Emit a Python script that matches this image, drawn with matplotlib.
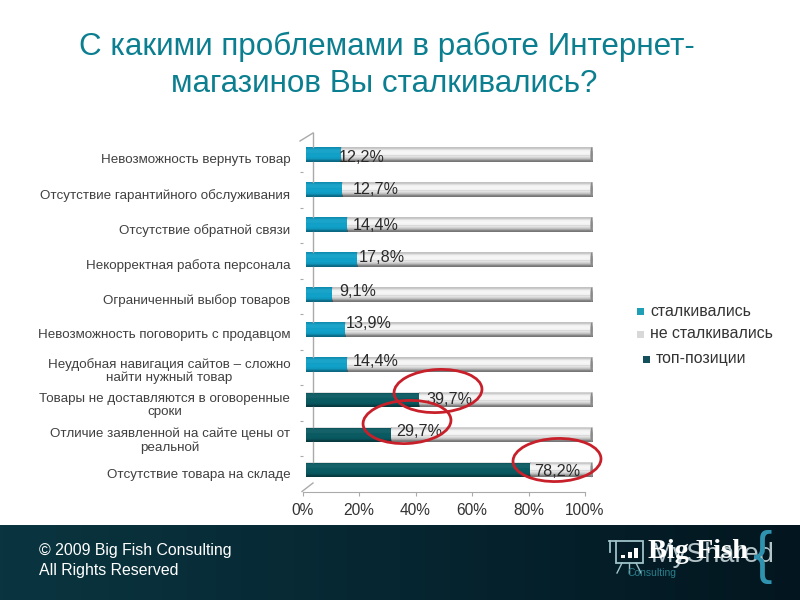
import numpy as np
import matplotlib
matplotlib.use("Agg")
import matplotlib.pyplot as plt
from matplotlib.patches import Ellipse, Rectangle
from matplotlib.colors import LinearSegmentedColormap
from matplotlib.transforms import ScaledTranslation

plt.rcParams['font.family'] = ['Liberation Sans', 'DejaVu Sans']

# data, top to bottom
categories = [
    'Невозможность вернуть товар',
    'Отсутствие гарантийного обслуживания',
    'Отсутствие обратной связи',
    'Некорректная работа персонала',
    'Ограниченный выбор товаров',
    'Невозможность поговорить с продавцом',
    'Неудобная навигация сайтов – сложно\nнайти нужный товар',
    'Товары не доставляются в оговоренные\nсроки',
    'Отличие заявленной на сайте цены от\nреальной',
    'Отсутствие товара на складе',
]
faced = [12.2, 12.7, 14.4, 17.8, 9.1, 13.9, 14.4, 39.7, 29.7, 78.2]
value_labels = ['12,2%', '12,7%', '14,4%', '17,8%', '9,1%', '13,9%', '14,4%', '39,7%', '29,7%', '78,2%']
is_top = [False] * 7 + [True] * 3
x_ticks = [0, 20, 40, 60, 80, 100]
legend_labels = ['сталкивались', 'не сталкивались', 'топ-позиции']

# label centres as typed on the slide, in pixels
label_px = [362, 376, 376, 382, 358, 369, 376, 449, 419, 557]
label_py = [157, 190, 225, 258, 292, 324, 361, 400, 431, 472]

BLUE = '#10a0c8'
TEAL = '#0a5a62'
GREY = '#ececec'
W, H = 800, 600


def box(left, top, right, bottom):
    return [left / W, 1 - bottom / H, (right - left) / W, (bottom - top) / H]


fig = plt.figure(figsize=(8, 6), dpi=100, facecolor='white')

# footer band
ax_foot = fig.add_axes(box(0, 525, 800, 600))
foot_cmap = LinearSegmentedColormap.from_list('foot', ['#0a3540', '#062631', '#03161f'])
ax_foot.imshow(np.linspace(0, 1, 256).reshape(1, -1), aspect='auto', cmap=foot_cmap)
ax_foot.axis('off')

# floor axis with the ticks, shifted left of the bars (fake 3D)
ax_floor = fig.add_axes(box(302.5, 137, 585, 491.5))
ax_floor.set_xlim(0, 100)
ax_floor.set_ylim(10, 0)
ax_floor.set_xticks(x_ticks)
ax_floor.set_xticklabels([f'{t}%' for t in x_ticks], fontsize=11.2, color='#333333')
ax_floor.set_yticks(range(1, 10))
ax_floor.set_yticklabels([])
ax_floor.tick_params(axis='x', length=3, color='#aaaaaa', pad=5)
ax_floor.tick_params(axis='y', length=2, color='#aaaaaa')
for name in ['top', 'right', 'left']:
    ax_floor.spines[name].set_visible(False)
ax_floor.spines['bottom'].set_color('#aaaaaa')
ax_floor.patch.set_alpha(0)

# bars
ax = fig.add_axes(box(305.5, 137, 592.5, 487.5))
ax.patch.set_alpha(0)
y = np.arange(len(categories))
colors = [TEAL if t else BLUE for t in is_top]
rest = [100 - v for v in faced]
ax.barh(y, faced, height=0.42, color=colors, linewidth=0, zorder=3)
ax.barh(y, rest, left=faced, height=0.42, color=GREY, linewidth=0, zorder=2)
ax.set_yticks(y)
ax.set_yticklabels(categories, fontsize=9.6, color='#404040', linespacing=1.12)
ax.tick_params(axis='y', length=0, pad=11)
label_shift = ScaledTranslation(0, -4 / 100, fig.dpi_scale_trans)
for t in ax.get_yticklabels():
    t.set_multialignment('center')
    t.set_transform(t.get_transform() + label_shift)
ax.set_xticks([])
for s in ax.spines.values():
    s.set_visible(False)

# cylinder shading on top of the bars
shade_grey = np.array([[[0, 0, 0, .18]], [[1, 1, 1, .2]], [[1, 1, 1, .6]], [[1, 1, 1, .3]],
                       [[0, 0, 0, .03]], [[0, 0, 0, .2]], [[0, 0, 0, .5]]])
shade_col = np.array([[[0, 0, 0, .12]], [[1, 1, 1, .05]], [[1, 1, 1, .05]], [[0, 0, 0, 0]],
                      [[0, 0, 0, 0]], [[0, 0, 0, .06]], [[0, 0, 0, .35]]])
for yi, v in zip(y, faced):
    ax.imshow(shade_col, extent=(0, v, yi + 0.21, yi - 0.21), aspect='auto',
              interpolation='bilinear', zorder=4)
    ax.imshow(shade_grey, extent=(v, 100, yi + 0.21, yi - 0.21), aspect='auto',
              interpolation='bilinear', zorder=4)
    # right end cap
    ax.add_patch(Ellipse((99.7, yi), 0.9, 0.42, facecolor='#8a8a8a', edgecolor='none', zorder=5))
ax.set_xlim(0, 100)
ax.set_ylim(len(categories) - 0.5, -0.5)

# overlay in pixel coordinates for slide furniture
ov = fig.add_axes([0, 0, 1, 1])
ov.set_xlim(0, W)
ov.set_ylim(H, 0)
ov.axis('off')
ov.patch.set_alpha(0)

# back wall line of the chart
ov.plot([313, 313], [133, 147], color='#aaaaaa', lw=1, zorder=1)
ov.plot([300, 313], [141, 133], color='#aaaaaa', lw=1, zorder=1)
ov.plot([302, 313], [491.5, 483], color='#aaaaaa', lw=1, zorder=1)
for y0, y1 in zip(range(162, 463, 35), range(182, 480, 35)):
    ov.plot([313, 313], [y0, y1], color='#aaaaaa', lw=1, zorder=1)

for lab, px, py in zip(value_labels, label_px, label_py):
    ov.text(px, py, lab, fontsize=11.6, color='#2a2a2a', ha='center', va='center', zorder=6)

# red highlight ovals
ovals = [(438, 391, -3), (407, 422, -3), (557, 460, -2)]
for cx, cy, angle in ovals:
    ov.add_patch(Ellipse((cx, cy), 88, 43, angle=angle, fill=False, edgecolor='#c8202a', lw=2, zorder=7))

# title
title_color = '#0b7f90'
ov.text(387, 47, 'С какими проблемами в работе Интернет-', fontsize=22.6, color=title_color,
        ha='center', va='center')
ov.text(384, 84, 'магазинов Вы сталкивались?', fontsize=22.6, color=title_color,
        ha='center', va='center')

# legend
legend_pos = [(640, 311, 650), (640, 334, 650), (646, 359, 656)]
legend_colors = ['#1e9fb5', '#d8d8d8', '#14505c']
for lab, col, (sx, sy, tx) in zip(legend_labels, legend_colors, legend_pos):
    ov.add_patch(Rectangle((sx - 3, sy - 3), 6.5, 6.5, facecolor=col, edgecolor='none'))
    ov.text(tx, sy, lab, fontsize=11.4, color='#333333', va='center')

# footer text
ov.text(39, 551, '© 2009 Big Fish Consulting', fontsize=11.4, color='white', va='center')
ov.text(39, 571, 'All Rights Reserved', fontsize=11.4, color='white', va='center')

# logo
logo = '#9fc3c8'
ov.add_patch(Rectangle((616, 541), 27, 22, fill=False, edgecolor=logo, lw=1.3))
ov.plot([609, 616], [541, 541], color=logo, lw=1.3)
ov.plot([610, 610], [541, 552], color=logo, lw=1.3)
for bx, bh in zip([621, 628, 634], [3, 6, 10]):
    ov.add_patch(Rectangle((bx, 558 - bh), 3.5, bh, facecolor='white', edgecolor='none'))
ov.plot([622, 617], [563, 573], color=logo, lw=1)
ov.plot([629, 629], [563, 573], color=logo, lw=1)
ov.plot([636, 641], [563, 573], color=logo, lw=1)
ov.text(651, 555, 'MyShared', fontsize=19.5, color='#b5c4c8', va='center', fontweight='light')
ov.text(648, 552, 'Big Fish', fontsize=20.4, color='white', va='center',
        family=['Liberation Serif', 'DejaVu Serif'], fontweight='bold')
ov.text(628, 573, 'Consulting', fontsize=7.5, color='#2a7f8c', va='center')
ov.text(763, 557, '{', fontsize=42, color='#2f93b0', va='center', ha='center', fontweight='light')

fig.savefig('out.png', dpi=100)
